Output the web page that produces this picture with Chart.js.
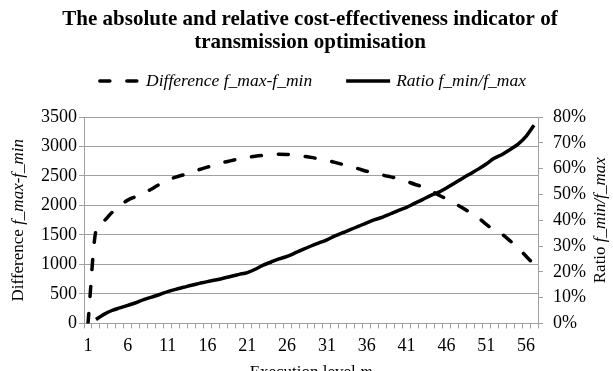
<!DOCTYPE html>
<html>
<head>
<meta charset="utf-8">
<script src="https://cdn.jsdelivr.net/npm/chart.js"></script>
<style>
  html, body { margin: 0; padding: 0; background: #fff; overflow: hidden; }
  #wrap { width: 613px; height: 371px; }
</style>
</head>
<body>
<div id="wrap"><canvas id="costChart" width="613" height="371"></canvas></div>
<script>
// execution levels m = 1..57
const levels = [];
for (let m = 1; m <= 57; m++) levels.push(String(m));

// difference f_max - f_min (left axis)
const diffValues = [
  0, 1570, 1740, 1880, 2000, 2090, 2150, 2210, 2280, 2360,
  2430, 2480, 2520, 2560, 2610, 2650, 2690, 2730, 2760, 2790,
  2815, 2835, 2850, 2860, 2870, 2865, 2855, 2835, 2815, 2790,
  2765, 2730, 2695, 2660, 2620, 2580, 2550, 2515, 2485, 2455,
  2410, 2360, 2315, 2250, 2180, 2110, 2040, 1960, 1880, 1790,
  1680, 1580, 1510, 1400, 1280, 1140, 1000
];

// ratio f_min / f_max in percent (right axis)
const ratioValues = [
  null, 1.5, 3.5, 5, 6, 7, 8, 9.2, 10.2, 11.2,
  12.3, 13.2, 14, 14.8, 15.5, 16.2, 16.8, 17.5, 18.3, 19,
  19.7, 21, 22.6, 23.8, 25, 26, 27.3, 28.7, 30, 31.2,
  32.4, 33.9, 35.2, 36.4, 37.7, 39, 40.2, 41.2, 42.5, 43.8,
  45, 46.5, 48, 49.5, 50.8, 52.5, 54.3, 56.2, 58, 59.8,
  61.8, 64, 65.5, 67.4, 69.5, 72.5, 76.8
];

const seriesNames = ["Difference f_max-f_min", "Ratio f_min/f_max"];
const titleLines = ["The absolute and relative cost-effectiveness indicator of", "transmission optimisation"];

const serif = "'Liberation Serif', 'Times New Roman', serif";
const gridGray = "#a0a0a0";
const dashPattern = [10, 17];

function setFont(ctx, italic, size) {
  ctx.font = (italic ? "italic " : "") + size + "px " + serif;
}

// draws a text made of upright and italic pieces, centred on (0,0)
function drawPieces(ctx, pieces, size) {
  let total = 0;
  pieces.forEach(p => {
    setFont(ctx, p.italic, size);
    p.w = ctx.measureText(p.text).width;
    total += p.w;
  });
  let x = -total / 2;
  pieces.forEach(p => {
    setFont(ctx, p.italic, size);
    ctx.fillText(p.text, x, 0);
    x += p.w;
  });
}

// title, legend and the mixed upright/italic axis titles
const extras = {
  id: "extras",
  afterDraw(chart) {
    const ctx = chart.ctx;
    const area = chart.chartArea;
    const midY = (area.top + area.bottom) / 2;
    ctx.save();
    ctx.fillStyle = "#000";
    ctx.strokeStyle = "#000";
    ctx.textBaseline = "middle";

    ctx.textAlign = "center";
    ctx.font = "bold 21px " + serif;
    ctx.fillText(titleLines[0], 310, 19.5);
    ctx.fillText(titleLines[1], 310, 42.5);

    ctx.textAlign = "left";
    const legY = 81;
    setFont(ctx, true, 17.5);
    const w1 = ctx.measureText(seriesNames[0]).width;
    const w2 = ctx.measureText(seriesNames[1]).width;
    const total = 40 + 8 + w1 + 34 + 44 + 6 + w2;
    let x = 312 - total / 2;
    ctx.lineWidth = 3.5;
    ctx.lineCap = "round";
    ctx.setLineDash(dashPattern);
    ctx.beginPath();
    ctx.moveTo(x + 1.75, legY);
    ctx.lineTo(x + 40, legY);
    ctx.stroke();
    ctx.setLineDash([]);
    x += 48;
    ctx.fillText(seriesNames[0], x, legY);
    x += w1 + 34;
    ctx.lineCap = "butt";
    ctx.beginPath();
    ctx.moveTo(x, legY);
    ctx.lineTo(x + 44, legY);
    ctx.stroke();
    x += 50;
    ctx.fillText(seriesNames[1], x, legY);

    ctx.save();
    ctx.translate(19, midY);
    ctx.rotate(-Math.PI / 2);
    drawPieces(ctx, [{ text: "Difference " }, { text: "f_max-f_min", italic: true }], 17);
    ctx.restore();

    ctx.save();
    ctx.translate(601, midY);
    ctx.rotate(-Math.PI / 2);
    drawPieces(ctx, [{ text: "Ratio " }, { text: "f_min/f_max", italic: true }], 17);
    ctx.restore();

    ctx.textBaseline = "alphabetic";
    ctx.translate((area.left + area.right) / 2, 377);
    drawPieces(ctx, [{ text: "Execution level " }, { text: "m", italic: true }], 17);
    ctx.restore();
  }
};

new Chart(document.getElementById("costChart"), {
  type: "line",
  data: {
    labels: levels,
    datasets: [
      {
        label: seriesNames[0],
        data: diffValues,
        yAxisID: "y",
        borderColor: "#000",
        borderWidth: 3.5,
        borderDash: dashPattern,
        borderCapStyle: "round",
        pointRadius: 0,
        cubicInterpolationMode: "monotone",
        fill: false
      },
      {
        label: seriesNames[1],
        data: ratioValues,
        yAxisID: "y1",
        borderColor: "#000",
        borderWidth: 3.5,
        pointRadius: 0,
        cubicInterpolationMode: "monotone",
        fill: false
      }
    ]
  },
  options: {
    responsive: false,
    animation: false,
    layout: { padding: { left: 39, right: 17, top: 117, bottom: 7 } },
    plugins: {
      title: { display: false },
      legend: { display: false },
      tooltip: { enabled: false }
    },
    scales: {
      x: {
        offset: true,
        grid: { offset: true, drawOnChartArea: false, drawTicks: true, tickLength: 5, color: gridGray },
        border: { color: gridGray },
        ticks: {
          autoSkip: false,
          maxRotation: 0,
          color: "#000",
          padding: 7,
          font: { family: serif, size: 18 },
          callback: (v, i) => (i % 5 === 0 ? levels[i] : "")
        }
      },
      y: {
        position: "left",
        min: 0,
        max: 3500,
        grid: { color: gridGray, tickLength: 5 },
        border: { color: gridGray },
        ticks: { stepSize: 500, color: "#000", padding: 2, font: { family: serif, size: 18 }, callback: v => String(v) }
      },
      y1: {
        position: "right",
        min: 0,
        max: 80,
        grid: { drawOnChartArea: false, color: gridGray, tickLength: 5 },
        border: { color: gridGray },
        ticks: { stepSize: 10, color: "#000", padding: 10, font: { family: serif, size: 18 }, callback: v => v + "%" }
      }
    }
  },
  plugins: [extras]
});
</script>
</body>
</html>
